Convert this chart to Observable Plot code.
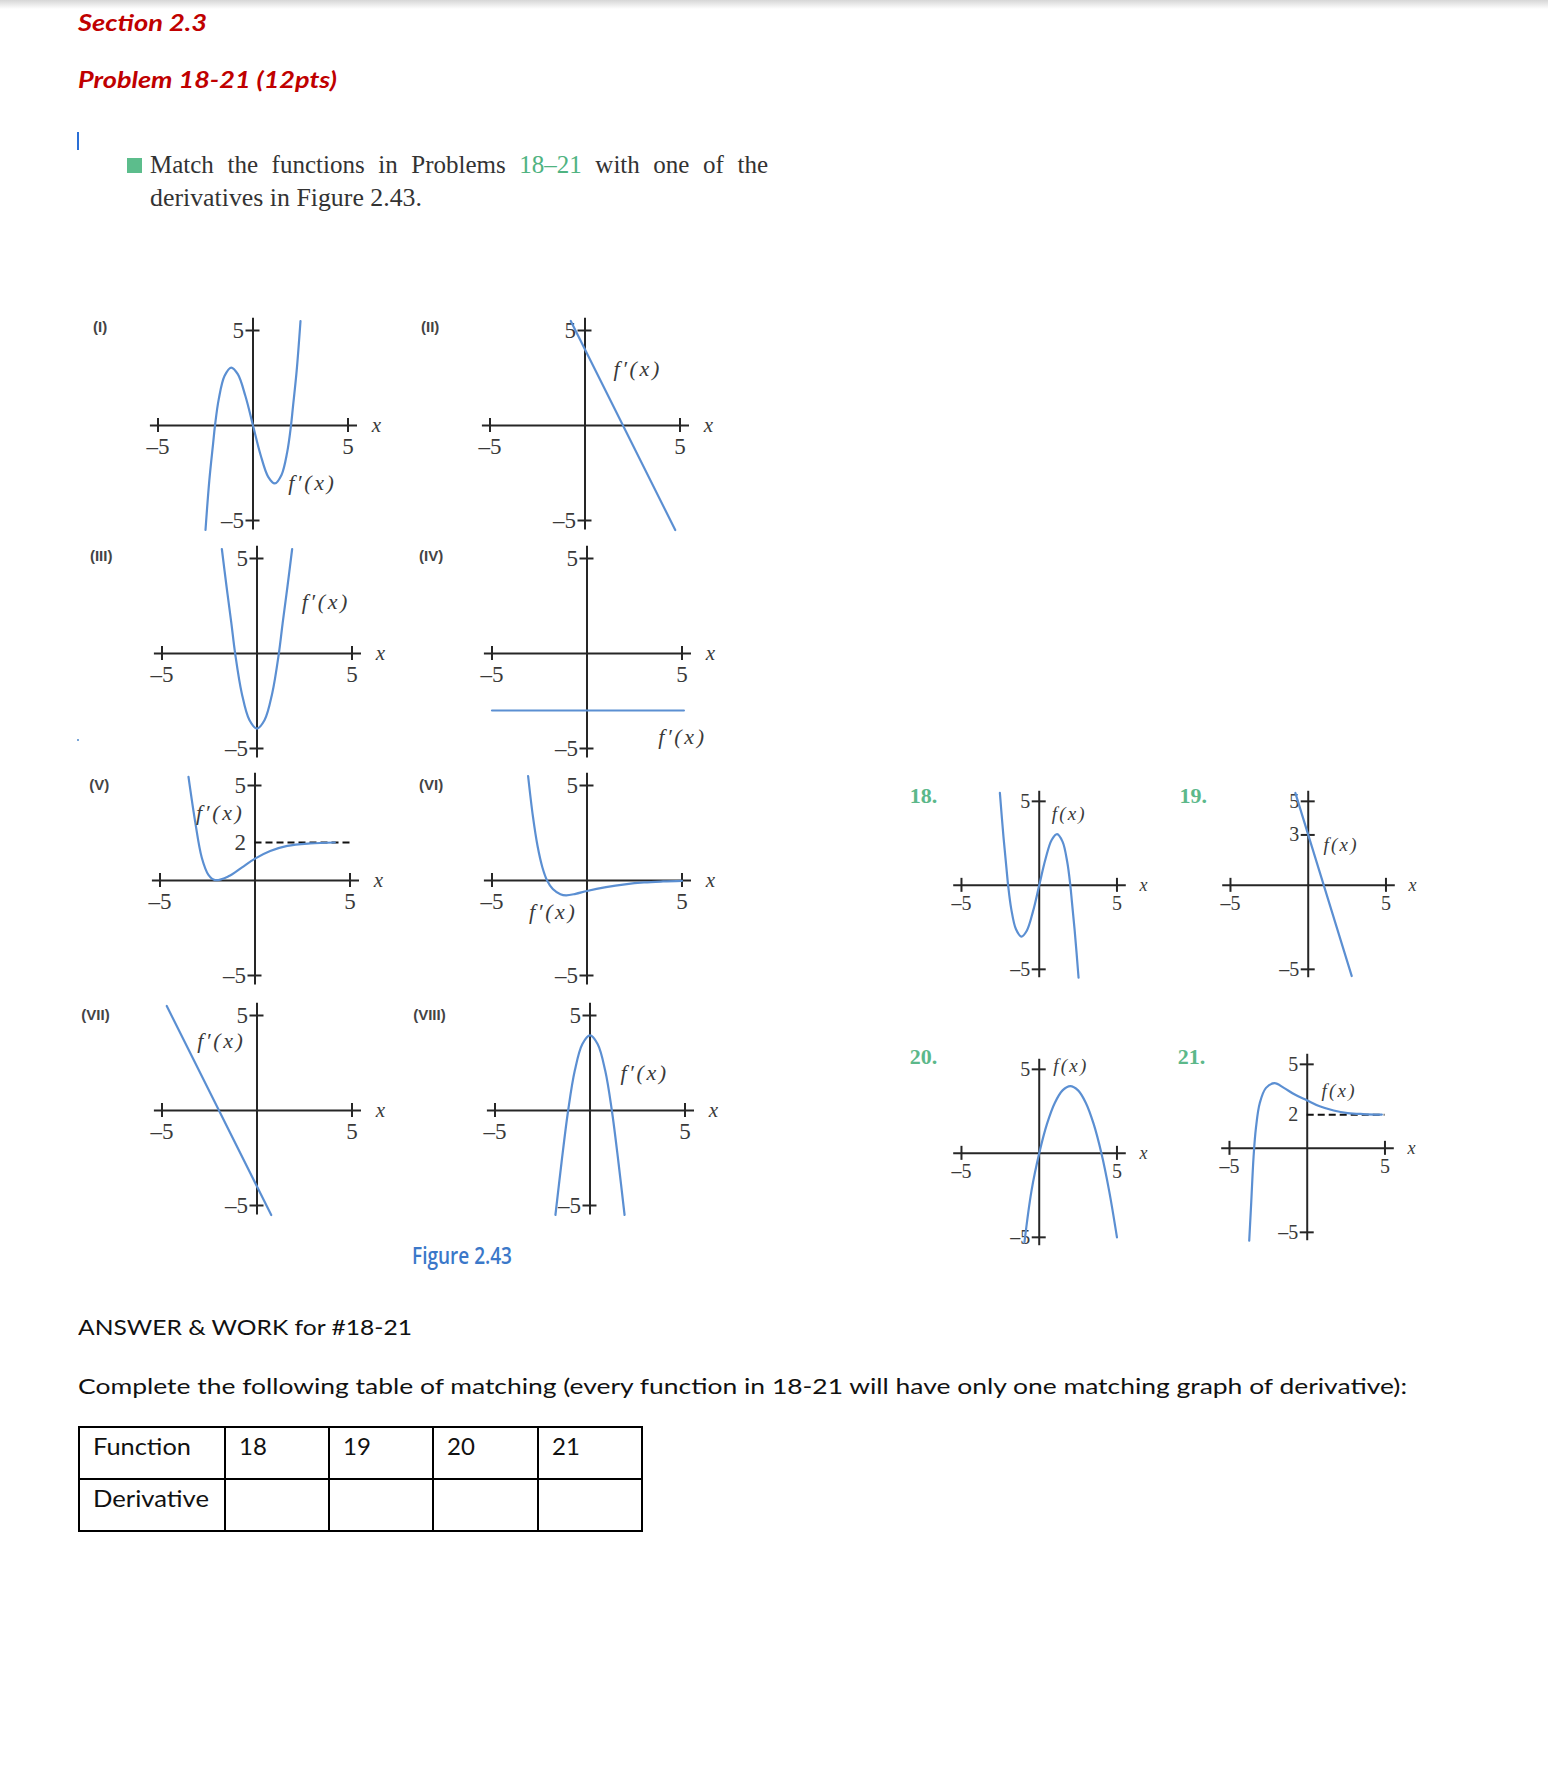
<!DOCTYPE html>
<html><head><meta charset="utf-8">
<script src="https://cdn.jsdelivr.net/npm/d3@7"></script>
<script src="https://cdn.jsdelivr.net/npm/@observablehq/plot@0.6"></script>
<style>
html,body{margin:0;padding:0;background:#fff;}
body{width:1548px;height:1767px;position:relative;overflow:hidden;}
.t{position:absolute;white-space:nowrap;line-height:1;transform-origin:0 0;display:inline-block;}
.red{color:#c00000;font-family:Lato,sans-serif;font-weight:700;font-style:italic;font-size:23px;}
.cal{font-family:Lato,sans-serif;font-size:21px;color:#111;}
.ser{font-family:"Liberation Serif","Times New Roman",serif;font-size:25px;color:#333;}
.green{color:#4fb381;}
#topbar{position:absolute;left:0;top:0;width:1548px;height:9px;background:linear-gradient(#d6d6d6,#fff);}
#cursor{position:absolute;left:77px;top:132px;width:1.6px;height:18px;background:#2a6fd6;}
#gsq{position:absolute;left:127px;top:158px;width:15px;height:15px;background:#5cbd8c;}
#dot{position:absolute;left:77px;top:739px;width:2px;height:2px;background:#7aa6d8;}
#fig{position:absolute;left:412px;top:1244px;font-family:"Open Sans",sans-serif;font-weight:600;font-size:23px;color:#3b78c9;line-height:1;white-space:nowrap;display:inline-block;transform-origin:0 0;}
table{position:absolute;left:78px;top:1426px;border-collapse:collapse;table-layout:fixed;border:2px solid #000;}
td{border:2px solid #000;padding:6px 0 0 13px;vertical-align:top;height:44px;font-family:Lato,sans-serif;font-size:24px;color:#111;line-height:1;white-space:nowrap;}
td span{display:inline-block;transform-origin:0 0;}
svg{position:absolute;overflow:visible;}
</style></head><body>
<div id="topbar"></div>
<div class="t red" style="left:78px;top:11px" data-w="129">Section 2.3</div>
<div class="t red" style="left:78px;top:68px" data-w="259">Problem 18-21 (12pts)</div>
<div id="cursor"></div>
<div id="gsq"></div>
<div class="t ser" style="left:150px;top:152px" data-ws="618">Match the functions in Problems <span class="green">18–21</span> with one of the</div>
<div class="t ser" style="left:150px;top:184.5px" data-w="272">derivatives in Figure 2.43.</div>
<div id="dot"></div>
<div id="fig" data-w="100">Figure 2.43</div>
<div class="t cal" style="left:78px;top:1316px" data-w="334">ANSWER &amp; WORK for #18-21</div>
<div class="t cal" style="left:78px;top:1375px" data-w="1329">Complete the following table of matching (every function in 18-21 will have only one matching graph of derivative):</div>
<table>
<colgroup><col style="width:146px"><col style="width:104px"><col style="width:104px"><col style="width:105px"><col style="width:104px"></colgroup>
<tr><td><span data-w="98">Function</span></td><td><span>18</span></td><td><span>19</span></td><td><span>20</span></td><td><span>21</span></td></tr>
<tr><td><span data-w="116">Derivative</span></td><td></td><td></td><td></td><td></td></tr>
</table>
<div id="panels"></div>
<script>
// ---------- data ----------
const axisTicks = [-5, 5];
const tableFunctions = ["18", "19", "20", "21"];

// Figure 2.43 derivative graphs (x, y)
const derivI = [[-2.5,-5.5],[-2.3,-2.9],[-2.1,-0.95],[-2.0,0],[-1.8,1.4],[-1.5,2.6],[-1.15,3.05],[-0.8,2.7],[-0.4,1.55],[0,0],[0.4,-1.55],[0.8,-2.7],[1.15,-3.05],[1.5,-2.6],[1.8,-1.4],[2.0,0],[2.1,0.95],[2.3,2.9],[2.5,5.5]];
const derivII = [[-0.75,5.5],[4.75,-5.5]];
const derivIII = [[-1.85,5.5],[-1.6,3.5],[-1.35,1.6],[-1.15,0],[-0.8,-2.1],[-0.4,-3.5],[0,-3.95],[0.4,-3.5],[0.8,-2.1],[1.15,0],[1.35,1.6],[1.6,3.5],[1.85,5.5]];
const derivIV = [[-5,-3],[5.1,-3]];
const derivV = [[-3.5,5.45],[-3.15,3.1],[-2.8,1.2],[-2.45,0.3],[-2.1,0.02],[-1.4,0.22],[-0.7,0.68],[0,1.15],[0.8,1.55],[1.7,1.82],[2.9,1.95],[4.2,2.0]];
const derivVI = [[-3.1,5.5],[-2.85,3.4],[-2.6,1.8],[-2.35,0.7],[-2.1,0],[-1.8,-0.45],[-1.4,-0.72],[-1.1,-0.78],[-0.6,-0.7],[0,-0.55],[1,-0.35],[2,-0.2],[3,-0.1],[4,-0.05],[5,-0.02]];
const derivVII = [[-4.75,5.5],[0.75,-5.5]];
const derivVIII = [[-1.82,-5.5],[-1.5,-2.75],[-1.15,0],[-0.8,2.1],[-0.4,3.5],[0,3.95],[0.4,3.5],[0.8,2.1],[1.15,0],[1.5,-2.75],[1.82,-5.5]];

// Problems 18-21 function graphs
const func18 = [[-2.53,5.5],[-2.3,2.9],[-2.1,0.95],[-2.0,0],[-1.8,-1.4],[-1.5,-2.6],[-1.15,-3.05],[-0.8,-2.7],[-0.4,-1.55],[0,0],[0.4,1.55],[0.8,2.7],[1.15,3.05],[1.5,2.6],[1.8,1.4],[2.0,0],[2.1,-0.95],[2.3,-2.9],[2.53,-5.5]];
const func19 = [[-0.83,5.5],[2.8,-5.4]];
const func20 = [[-0.95,-5.3],[-0.5,-2.25],[0,0],[0.5,1.75],[1,3],[1.5,3.75],[2,4],[2.5,3.75],[3,3],[3.5,1.75],[4,0],[4.5,-2.25],[5,-5]];
const func21 = [[-3.73,-5.5],[-3.6,-3.2],[-3.45,-0.5],[-3.3,1.2],[-3.05,2.7],[-2.65,3.6],[-2.1,3.88],[-1.5,3.6],[-0.8,3.2],[0,2.85],[0.8,2.5],[1.7,2.25],[2.6,2.1],[3.6,2.04],[4.8,2.01]];

const derivNames = ["(I)","(II)","(III)","(IV)","(V)","(VI)","(VII)","(VIII)"];
const funcNames = ["18.","19.","20.","21."];
const derivLabel = "f′(x)";
const funcLabel = "f(x)";

// ---------- drawing ----------
const BLUE = "#5b8fd2", AXIS = "#262626", INK = "#3a3a3a";
const SERIF = "'Liberation Serif', 'Times New Roman', serif";
const fmt = d => d < 0 ? "–" + (-d) : String(d);

function panel(p) {
  const W = (p.xd[1]-p.xd[0])*p.ux, H = (p.yd[1]-p.yd[0])*p.uy;
  const tx = 7/p.uy, ty = 7/p.ux;
  const marks = [
    Plot.ruleY([0], {x1: p.ax[0], x2: p.ax[1], stroke: AXIS, strokeWidth: 2}),
    Plot.ruleX([0], {y1: p.ay[0], y2: p.ay[1], stroke: AXIS, strokeWidth: 2}),
    Plot.ruleX(axisTicks, {x: d => d, y1: -tx, y2: tx, stroke: AXIS, strokeWidth: 2}),
    Plot.ruleY(p.yt, {y: d => d, x1: -ty, x2: ty, stroke: AXIS, strokeWidth: 2}),
    Plot.text(axisTicks, {x: d => d, y: 0, dy: p.ldy, text: fmt, fontSize: p.fs, fontFamily: SERIF, fill: INK}),
    Plot.text(p.ytl, {x: 0, y: d => d, dx: -9, text: fmt, textAnchor: "end", fontSize: p.fs, fontFamily: SERIF, fill: INK}),
    Plot.text(["x"], {x: p.xl, y: 0, text: d => d, fontSize: p.fs - 2, fontStyle: "italic", fontFamily: SERIF, fill: INK})
  ];
  if (p.dash != null) marks.push(Plot.ruleY([p.dash], {x1: 0, x2: 5, stroke: "#111", strokeWidth: 1.8, strokeDasharray: "7,4"}));
  marks.push(Plot.line(p.data, {x: d => d[0], y: d => d[1], curve: p.data.length > 2 ? "catmull-rom" : "linear", stroke: BLUE, strokeWidth: 2.2}));
  marks.push(Plot.text([p.lab], {x: d => d[0], y: d => d[1], text: () => p.labText, textAnchor: "start", fontSize: p.fs - 1, fontStyle: "italic", fontFamily: SERIF, fill: INK}));
  marks.push(Plot.text([p.name], {x: p.np[0], y: p.np[1], text: d => d, textAnchor: "middle", fontSize: p.nfs, fontWeight: "bold", fontFamily: p.nfont, fill: p.ncol}));
  const svg = Plot.plot({
    width: W, height: H, margin: 0,
    x: {domain: p.xd, axis: null}, y: {domain: p.yd, axis: null},
    style: {background: "transparent", overflow: "visible"},
    marks
  });
  svg.style.position = "absolute";
  svg.style.left = (p.ox + p.xd[0]*p.ux) + "px";
  svg.style.top = (p.oy - p.yd[1]*p.uy) + "px";
  svg.style.maxWidth = "none";
  // make sure the mark fonts win over inherited defaults
  svg.querySelectorAll("g").forEach(g => {
    const f = g.getAttribute("font-family");
    if (f) g.style.fontFamily = f;
  });
  svg.querySelectorAll("text").forEach(t => {
    if (t.textContent.includes("(x)")) t.style.letterSpacing = p.ls + "px";
  });
  document.getElementById("panels").appendChild(svg);
}

const dBase = {ux: 19, uy: 19, xd: [-9.5, 7.5], yd: [-6, 6], ax: [-5.4, 5.5], ay: [-5.5, 5.65], yt: axisTicks, ytl: axisTicks, ldy: 21, fs: 23, xl: 6.5, labText: derivLabel, ls: 2.6, nfs: 15, nfont: "'Liberation Sans', sans-serif", ncol: "#444"};
const derivPanels = [
  {data: derivI,    ox: 252.5, oy: 425,  lab: [1.85,-3.05], np: [-8.05,5.2]},
  {data: derivII,   ox: 584.5, oy: 425,  lab: [1.5,3.0],    np: [-8.15,5.2]},
  {data: derivIII,  ox: 256,   oy: 653,  lab: [2.35,2.7],   np: [-8.2,5.1]},
  {data: derivIV,   ox: 586.5, oy: 653,  lab: [3.75,-4.4],  np: [-8.2,5.1]},
  {data: derivV,    ox: 254.5, oy: 879.5,lab: [-3.1,3.55],  np: [-8.2,5.0], dash: 2, ytl: [-5, 2, 5]},
  {data: derivVI,   ox: 586.5, oy: 880,  lab: [-3.05,-1.65],np: [-8.2,5.0]},
  {data: derivVII,  ox: 256.5, oy: 1110, lab: [-3.15,3.65], np: [-8.5,5.0]},
  {data: derivVIII, ox: 589,   oy: 1110, lab: [1.6,1.95],   np: [-8.45,5.0]}
];
derivPanels.forEach((p, i) => panel({...dBase, ...p, name: derivNames[i]}));

const fBase = {ux: 15.55, uy: 16.8, xd: [-9.5, 7.5], yd: [-6.3, 6.3], ax: [-5.5, 5.6], ay: [-5.5, 5.6], yt: axisTicks, ytl: axisTicks, ldy: 18, fs: 20, xl: 6.7, labText: funcLabel, ls: 2.2, nfs: 22, nfont: "'Liberation Serif', serif", ncol: "#5cb88a"};
const funcPanels = [
  {data: func18, ox: 1039,   oy: 885,    lab: [0.8,4.27],  np: [-7.45,5.3]},
  {data: func19, ox: 1307.5, oy: 885,    lab: [0.99,2.38], np: [-7.4,5.3], yt: [-5, 3, 5], ytl: [-5, 3, 5]},
  {data: func20, ox: 1039,   oy: 1152.5, lab: [0.91,5.2],  np: [-7.45,5.75]},
  {data: func21, ox: 1306.7, oy: 1147.5, lab: [0.92,3.43], np: [-7.45,5.45], dash: 2, ytl: [-5, 2, 5]}
];
funcPanels.forEach((p, i) => panel({...fBase, ...p, name: funcNames[i]}));

// ---------- fit text widths ----------
function fit() {
  document.querySelectorAll("[data-w]").forEach(el => {
    el.style.transform = "none";
    const w = el.getBoundingClientRect().width;
    el.style.transform = `scaleX(${(+el.dataset.w) / w})`;
  });
  document.querySelectorAll("[data-ws]").forEach(el => {
    el.style.wordSpacing = "0px";
    const w = el.getBoundingClientRect().width;
    const n = (el.textContent.match(/ /g) || []).length;
    el.style.wordSpacing = ((+el.dataset.ws - w) / n) + "px";
  });
}
fit();
if (document.fonts && document.fonts.ready) document.fonts.ready.then(fit);
</script>
</body></html>
